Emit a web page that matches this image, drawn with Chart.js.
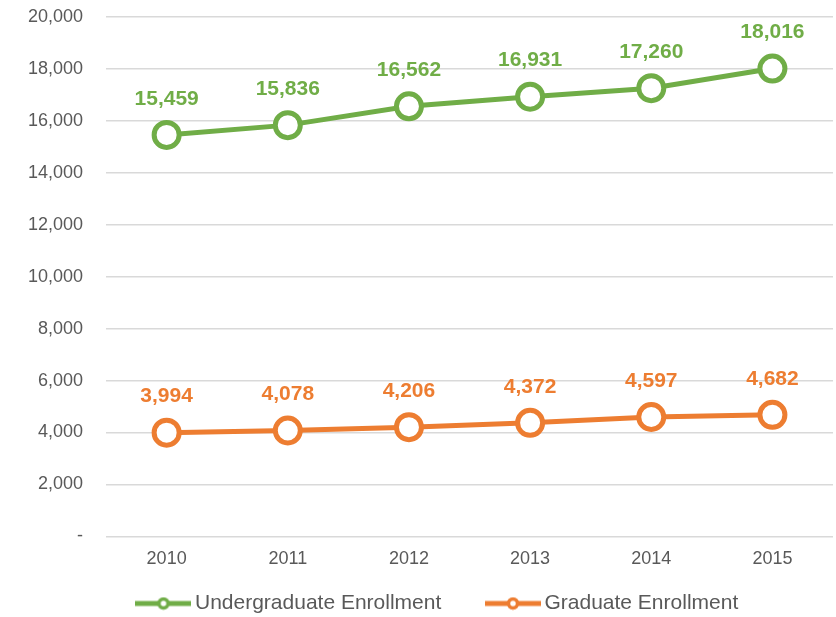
<!DOCTYPE html>
<html>
<head>
<meta charset="utf-8">
<script src="https://cdn.jsdelivr.net/npm/chart.js@4/dist/chart.umd.min.js"></script>
<style>
  html, body { margin: 0; padding: 0; background: #fff; }
  #wrap { width: 836px; height: 617px; }
</style>
</head>
<body>
<div id="wrap"><canvas id="enrollChart"></canvas></div>
<script>
const years = ['2010', '2011', '2012', '2013', '2014', '2015'];
const undergrad = [15459, 15836, 16562, 16931, 17260, 18016];
const graduate = [3994, 4078, 4206, 4372, 4597, 4682];
const yTicks = [0, 2000, 4000, 6000, 8000, 10000, 12000, 14000, 16000, 18000, 20000];

const GREEN = '#70AD47';
const ORANGE = '#ED7D31';
const FONT = '"Liberation Sans", Arial, sans-serif';

// legend icon: line with hollow circle in the middle
function legendIcon(color) {
  const c = document.createElement('canvas');
  c.width = 56; c.height = 14;
  const g = c.getContext('2d');
  g.strokeStyle = color;
  g.lineWidth = 5;
  g.lineCap = 'butt';
  g.beginPath(); g.moveTo(0, 7); g.lineTo(56, 7); g.stroke();
  g.fillStyle = '#fff';
  g.lineWidth = 3.5;
  g.beginPath(); g.arc(28, 7, 4.5, 0, Math.PI * 2); g.fill(); g.stroke();
  return c;
}

const valueLabels = {
  id: 'valueLabels',
  afterDatasetsDraw(chart) {
    const ctx = chart.ctx;
    ctx.save();
    ctx.font = 'bold 21px ' + FONT;
    ctx.textAlign = 'center';
    ctx.textBaseline = 'middle';
    chart.data.datasets.forEach((ds, i) => {
      const meta = chart.getDatasetMeta(i);
      ctx.fillStyle = ds.borderColor;
      meta.data.forEach((pt, j) => {
        ctx.fillText(ds.data[j].toLocaleString('en-US'), pt.x, pt.y - 36);
      });
    });
    ctx.restore();
  }
};

function makeSet(label, data, color) {
  return {
    label: label,
    data: data,
    borderColor: color,
    backgroundColor: '#fff',
    borderWidth: 5,
    pointRadius: 12.5,
    pointHoverRadius: 12.5,
    pointBorderWidth: 5,
    pointBackgroundColor: '#fff',
    pointBorderColor: color,
    pointStyle: 'circle',
    tension: 0
  };
}

const ctx = document.getElementById('enrollChart').getContext('2d');
const greenIcon = legendIcon(GREEN);
const orangeIcon = legendIcon(ORANGE);

new Chart(ctx, {
  type: 'line',
  data: {
    labels: years,
    datasets: [
      makeSet('Undergraduate Enrollment', undergrad, GREEN),
      makeSet('Graduate Enrollment', graduate, ORANGE)
    ]
  },
  options: {
    responsive: true,
    maintainAspectRatio: false,
    animation: false,
    layout: { autoPadding: false, padding: { top: 17, right: 3, left: 5, bottom: -7 } },
    scales: {
      x: {
        offset: true,
        grid: { display: false, drawTicks: false },
        border: { display: false },
        ticks: {
          padding: 12,
          color: '#595959',
          font: { family: FONT, size: 18 }
        },
        afterFit(axis) { axis.height += 7; }
      },
      y: {
        min: 0,
        max: 20000,
        afterBuildTicks(axis) {
          axis.ticks = yTicks.map(v => ({ value: v }));
        },
        afterFit(axis) { axis.paddingTop = 0; },
        grid: { color: '#D9D9D9', lineWidth: 1.5, drawTicks: false },
        border: { display: false },
        ticks: {
          padding: 23,
          color: '#595959',
          font: { family: FONT, size: 18 },
          callback: v => v === 0 ? '-' : v.toLocaleString('en-US')
        }
      }
    },
    plugins: {
      legend: {
        position: 'bottom',
        fullSize: false,
        labels: {
          usePointStyle: true,
          pointStyleWidth: 42,
          padding: 4,
          color: '#595959',
          font: { family: FONT, size: 21 },
          generateLabels(chart) {
            return chart.data.datasets.map((ds, i) => ({
              text: i === 0 ? ds.label + '        ' : ds.label + '          ',
              pointStyle: i === 0 ? greenIcon : orangeIcon,
              fillStyle: ds.borderColor,
              strokeStyle: ds.borderColor,
              lineWidth: 0,
              hidden: false,
              datasetIndex: i,
              fontColor: '#595959'
            }));
          }
        }
      },
      tooltip: { enabled: false }
    }
  },
  plugins: [valueLabels]
});
</script>
</body>
</html>
